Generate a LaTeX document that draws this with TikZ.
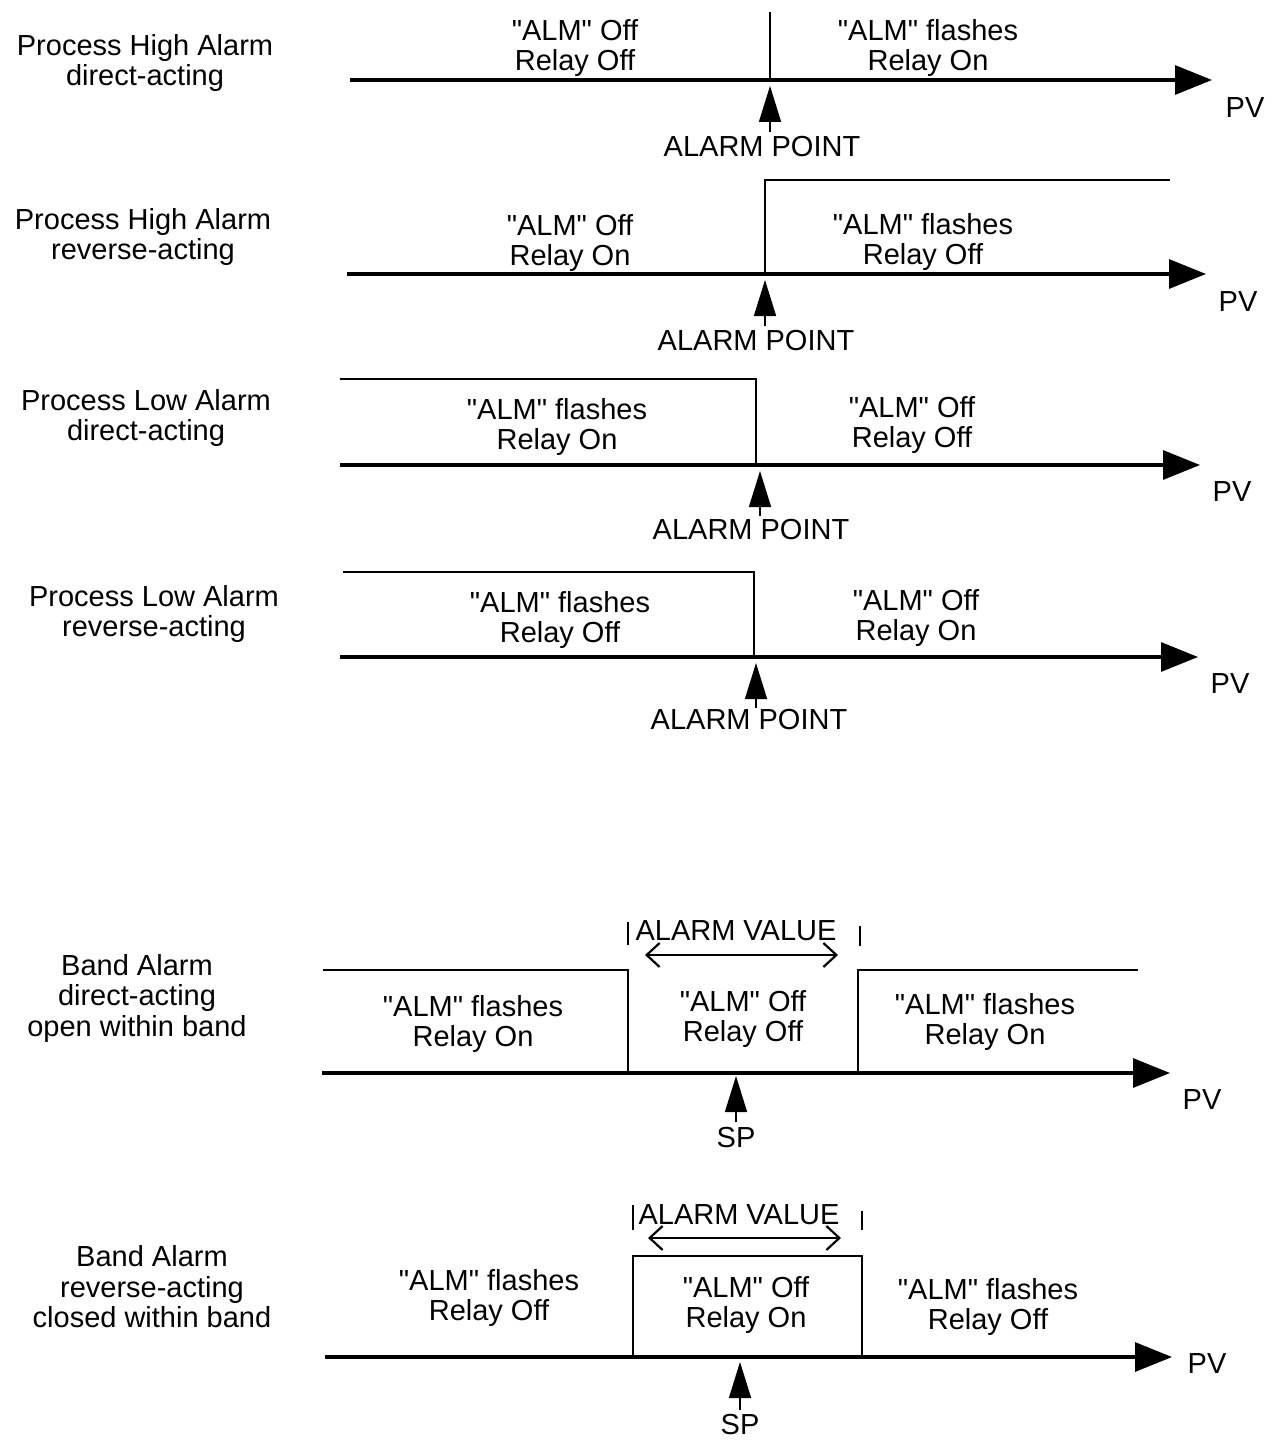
\documentclass[tikz,border=0pt]{standalone}
\usepackage{fontspec}
\setmainfont{Liberation Sans}
\usetikzlibrary{arrows.meta}
\newcommand\Qt{\textquotedbl}
\begin{document}
\begin{tikzpicture}[x=1pt,y=-1pt,
 lbl/.style={font=\fontsize{29}{30.5}\selectfont, align=center, inner sep=0pt},
 axis/.style={line width=3.2pt, -{Triangle[length=37pt,width=29pt]}},
 lvl/.style={line width=2.4pt},
 ptr/.style={line width=1.6pt, -{Triangle[length=36pt,width=22pt]}},
 tick/.style={line width=2pt},
 dbl/.style={line width=2.2pt, {Straight Barb[length=13pt,width=24pt]}-{Straight Barb[length=13pt,width=24pt]}}]
\useasboundingbox[fill=white] (0,0) rectangle (1275,1447);

% ---------- 1: Process High Alarm direct-acting
\node[lbl] (t1) at (145,63) {Process High Alarm\\direct-acting};
\coordinate (a1s) at (350,80); \coordinate (a1e) at (1212,80);
\draw[axis] (a1s) -- (a1e);
\coordinate (v1t) at (770,12); \coordinate (v1b) at (770,80);
\draw[lvl] (v1t) -- (v1b);
\node[lbl] (l1a) at (575,48) {\Qt ALM\Qt{} Off\\Relay Off};
\node[lbl] (l1b) at (928,48) {\Qt ALM\Qt{} flashes\\Relay On};
\coordinate (p1s) at (770,132); \coordinate (p1t) at (770,86);
\draw[ptr] (p1s) -- (p1t);
\node[lbl] (ap1) at (762,147) {ALARM POINT};
\node[lbl] (pv1) at (1245,108) {PV};

% ---------- 2: Process High Alarm reverse-acting
\node[lbl] (t2) at (143,237) {Process High Alarm\\reverse-acting};
\coordinate (a2s) at (347,274); \coordinate (a2e) at (1206,274);
\draw[axis] (a2s) -- (a2e);
\coordinate (v2b) at (765,274); \coordinate (v2t) at (765,180); \coordinate (h2e) at (1170,180);
\draw[lvl] (v2b) -- (v2t) -- (h2e);
\node[lbl] (l2a) at (570,243) {\Qt ALM\Qt{} Off\\Relay On};
\node[lbl] (l2b) at (923,242) {\Qt ALM\Qt{} flashes\\Relay Off};
\coordinate (p2s) at (765,326); \coordinate (p2t) at (765,280);
\draw[ptr] (p2s) -- (p2t);
\node[lbl] (ap2) at (756,341) {ALARM POINT};
\node[lbl] (pv2) at (1238,302) {PV};

% ---------- 3: Process Low Alarm direct-acting
\node[lbl] (t3) at (146,418) {Process Low Alarm\\direct-acting};
\coordinate (a3s) at (340,465); \coordinate (a3e) at (1200,465);
\draw[axis] (a3s) -- (a3e);
\coordinate (h3s) at (340,379); \coordinate (v3t) at (756,379); \coordinate (v3b) at (756,465);
\draw[lvl] (h3s) -- (v3t) -- (v3b);
\node[lbl] (l3a) at (557,427) {\Qt ALM\Qt{} flashes\\Relay On};
\node[lbl] (l3b) at (912,425) {\Qt ALM\Qt{} Off\\Relay Off};
\coordinate (p3s) at (760,516); \coordinate (p3t) at (760,471);
\draw[ptr] (p3s) -- (p3t);
\node[lbl] (ap3) at (751,530) {ALARM POINT};
\node[lbl] (pv3) at (1232,492) {PV};

% ---------- 4: Process Low Alarm reverse-acting
\node[lbl] (t4) at (154,614) {Process Low Alarm\\reverse-acting};
\coordinate (a4s) at (340,657); \coordinate (a4e) at (1198,657);
\draw[axis] (a4s) -- (a4e);
\coordinate (h4s) at (343,572); \coordinate (v4t) at (754,572); \coordinate (v4b) at (754,657);
\draw[lvl] (h4s) -- (v4t) -- (v4b);
\node[lbl] (l4a) at (560,620) {\Qt ALM\Qt{} flashes\\Relay Off};
\node[lbl] (l4b) at (916,618) {\Qt ALM\Qt{} Off\\Relay On};
\coordinate (p4s) at (756,708); \coordinate (p4t) at (756,663);
\draw[ptr] (p4s) -- (p4t);
\node[lbl] (ap4) at (749,720) {ALARM POINT};
\node[lbl] (pv4) at (1230,684) {PV};

% ---------- 5: Band Alarm direct-acting
\node[lbl] (t5) at (137,998) {Band Alarm\\direct-acting\\open within band};
\coordinate (a5s) at (322,1073); \coordinate (a5e) at (1170,1073);
\draw[axis] (a5s) -- (a5e);
\coordinate (h5s) at (323,970); \coordinate (v5t) at (628,970); \coordinate (v5b) at (628,1073);
\draw[lvl] (h5s) -- (v5t) -- (v5b);
\coordinate (w5b) at (858,1073); \coordinate (w5t) at (858,970); \coordinate (h5e) at (1138,970);
\draw[lvl] (w5b) -- (w5t) -- (h5e);
\node[lbl] (av5) at (736,931) {ALARM VALUE};
\coordinate (k5a) at (628,922); \coordinate (k5b) at (628,945);
\draw[tick] (k5a) -- (k5b);
\coordinate (k5c) at (860,926); \coordinate (k5d) at (860,946);
\draw[tick] (k5c) -- (k5d);
\coordinate (d5s) at (645,955); \coordinate (d5e) at (838,955);
\draw[dbl] (d5s) -- (d5e);
\node[lbl] (l5a) at (473,1024) {\Qt ALM\Qt{} flashes\\Relay On};
\node[lbl] (l5b) at (743,1019) {\Qt ALM\Qt{} Off\\Relay Off};
\node[lbl] (l5c) at (985,1022) {\Qt ALM\Qt{} flashes\\Relay On};
\coordinate (p5s) at (736,1122); \coordinate (p5t) at (736,1076);
\draw[ptr] (p5s) -- (p5t);
\node[lbl] (sp5) at (736,1138) {SP};
\node[lbl] (pv5) at (1202,1100) {PV};

% ---------- 6: Band Alarm reverse-acting
\node[lbl] (t6) at (152,1287) {Band Alarm\\reverse-acting\\closed within band};
\coordinate (a6s) at (325,1357); \coordinate (a6e) at (1172,1357);
\draw[axis] (a6s) -- (a6e);
\coordinate (b6a) at (633,1357); \coordinate (b6b) at (633,1256); \coordinate (b6c) at (862,1256); \coordinate (b6d) at (862,1357);
\draw[lvl] (b6a) -- (b6b) -- (b6c) -- (b6d);
\node[lbl] (av6) at (739,1215) {ALARM VALUE};
\coordinate (k6a) at (633,1205); \coordinate (k6b) at (633,1230);
\draw[tick] (k6a) -- (k6b);
\coordinate (k6c) at (862,1211); \coordinate (k6d) at (862,1230);
\draw[tick] (k6c) -- (k6d);
\coordinate (d6s) at (648,1238); \coordinate (d6e) at (841,1238);
\draw[dbl] (d6s) -- (d6e);
\node[lbl] (l6a) at (489,1298) {\Qt ALM\Qt{} flashes\\Relay Off};
\node[lbl] (l6b) at (746,1305) {\Qt ALM\Qt{} Off\\Relay On};
\node[lbl] (l6c) at (988,1307) {\Qt ALM\Qt{} flashes\\Relay Off};
\coordinate (p6s) at (740,1410); \coordinate (p6t) at (740,1362);
\draw[ptr] (p6s) -- (p6t);
\node[lbl] (sp6) at (740,1424) {SP};
\node[lbl] (pv6) at (1207,1364) {PV};
\end{tikzpicture}
\end{document}
